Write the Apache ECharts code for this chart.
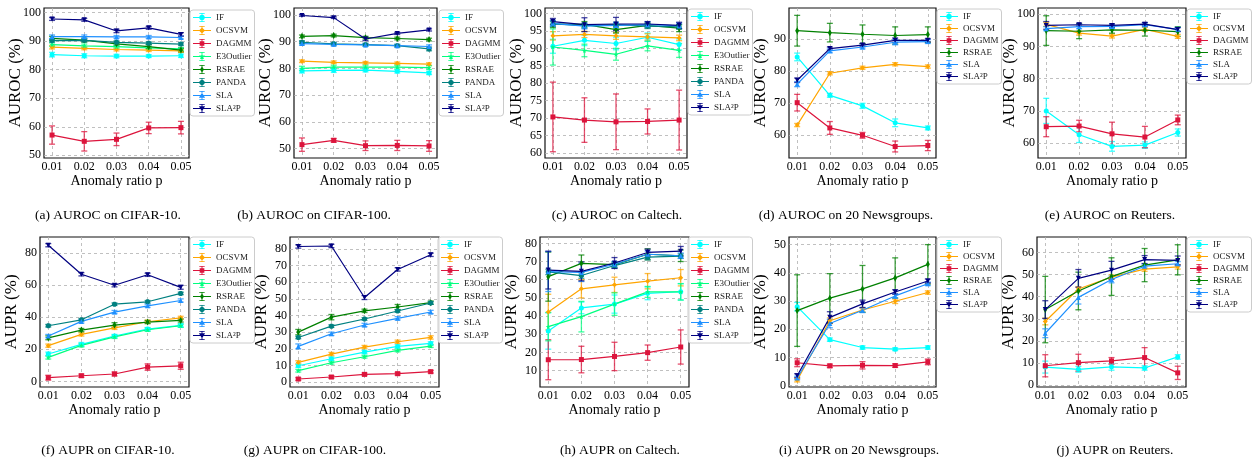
<!DOCTYPE html>
<html>
<head>
<meta charset="utf-8">
<script src="https://cdn.jsdelivr.net/npm/echarts@6/dist/echarts.min.js"></script>
</head>
<body style="margin:0;background:#fff">
<div id="container" style="width:1252px;height:462px;"></div>
<script>
// x values (anomaly ratio p)
var ratios = [0.01, 0.02, 0.03, 0.04, 0.05];
var methods8 = ['IF', 'OCSVM', 'DAGMM', 'E3Outlier', 'RSRAE', 'PANDA', 'SLA', 'SLA²P'];
var methods6 = ['IF', 'OCSVM', 'DAGMM', 'RSRAE', 'SLA', 'SLA²P'];

// (a) AUROC on CIFAR-10
var aMean = [[85.3, 84.9, 84.8, 84.8, 84.9], [87.9, 87.5, 87.1, 86.9, 86.6], [57.1, 54.9, 55.6, 59.6, 59.7], [88.8, 88.4, 88.1, 87.7, 87.3],
             [91.0, 90.4, 89.1, 88.1, 86.9], [90.2, 90.3, 89.6, 89.3, 89.0], [91.6, 91.6, 91.5, 91.5, 91.3], [97.8, 97.5, 93.6, 94.7, 92.4]];
var aErr  = [[0.8, 0.7, 0.6, 0.5, 0.6], [0.6, 0.5, 0.5, 0.5, 0.5], [3.2, 3.4, 2.2, 2.0, 2.2], [0.6, 0.6, 0.5, 0.5, 0.5],
             [0.7, 0.7, 0.8, 0.7, 0.6], [0.5, 0.5, 0.5, 0.5, 0.5], [0.6, 0.6, 0.5, 0.5, 0.5], [0.5, 0.5, 0.6, 0.5, 0.6]];
// (b) AUROC on CIFAR-100
var bMean = [[79.1, 79.3, 79.4, 78.9, 78.3], [82.7, 82.3, 82.1, 81.9, 81.6], [51.5, 53.1, 51.1, 51.2, 51.0], [80.0, 80.5, 80.5, 80.5, 80.3],
             [92.0, 92.3, 91.5, 91.2, 90.8], [89.8, 89.2, 88.9, 88.5, 87.3], [89.3, 89.0, 88.8, 88.5, 88.2], [99.8, 99.0, 91.0, 93.1, 94.4]];
var bErr  = [[0.8, 0.8, 0.7, 0.6, 0.6], [0.5, 0.5, 0.5, 0.5, 0.5], [2.5, 0.7, 1.8, 1.9, 2.0], [0.8, 0.7, 0.7, 0.7, 0.7],
             [0.5, 0.5, 0.5, 0.5, 0.5], [0.6, 0.5, 0.5, 0.5, 0.7], [0.6, 0.6, 0.5, 0.5, 0.6], [0.3, 0.3, 0.6, 0.4, 0.4]];
// (c) AUROC on Caltech
var cMean = [[90.6, 92.3, 91.4, 93.2, 91.1], [93.6, 94.0, 93.6, 93.3, 93.0], [70.3, 69.4, 68.9, 69.0, 69.4], [90.4, 89.4, 88.3, 90.7, 89.4],
             [97.0, 96.9, 95.4, 96.6, 95.8], [97.0, 96.5, 96.8, 96.4, 96.2], [97.2, 96.4, 96.6, 96.8, 96.5], [97.7, 96.8, 97.0, 97.0, 96.6]];
var cErr  = [[2.0, 1.5, 1.8, 1.2, 1.6], [1.2, 0.9, 1.0, 0.9, 0.8], [10.0, 6.4, 8.0, 3.6, 8.6], [5.2, 1.8, 1.7, 1.4, 2.0],
             [1.0, 0.8, 1.0, 0.7, 1.0], [0.7, 0.7, 0.7, 0.7, 0.7], [0.8, 0.8, 0.8, 0.8, 0.8], [0.9, 2.0, 1.9, 0.7, 0.9]];
// (d) AUROC on 20 Newsgroups
var dMean = [[84.5, 72.5, 69.2, 63.9, 62.3], [63.2, 79.4, 81.1, 82.2, 81.5], [70.2, 62.3, 60.0, 56.5, 56.8],
             [92.7, 92.1, 91.6, 91.2, 91.5], [76.0, 86.4, 87.6, 89.1, 89.3], [77.2, 87.1, 88.2, 89.7, 89.7]];
var dErr  = [[1.2, 0.6, 0.8, 1.2, 0.6], [0.5, 0.5, 0.5, 0.5, 0.5], [2.6, 2.0, 0.9, 1.7, 1.6],
             [4.8, 2.9, 2.9, 2.7, 2.4], [0.8, 0.6, 0.6, 0.8, 0.6], [0.7, 0.5, 0.5, 0.7, 0.5]];
// (e) AUROC on Reuters
var eMean = [[70.0, 62.6, 59.0, 59.4, 63.3], [96.8, 94.1, 93.2, 95.3, 93.1], [65.1, 65.3, 62.9, 61.9, 67.2],
             [94.9, 94.7, 95.1, 95.0, 94.6], [95.5, 96.1, 96.2, 96.7, 95.3], [96.5, 96.7, 96.5, 96.9, 95.2]];
var eErr  = [[3.9, 2.4, 1.5, 1.0, 1.1], [0.6, 0.6, 0.6, 0.6, 0.6], [3.1, 1.8, 3.6, 3.3, 1.5],
             [4.6, 2.3, 1.0, 1.8, 1.5], [0.6, 0.6, 0.6, 0.6, 0.6], [1.2, 0.5, 0.5, 0.5, 0.6]];
// (f) AUPR on CIFAR-10
var fMean = [[17.0, 23.0, 28.2, 32.5, 34.8], [22.2, 29.2, 33.3, 37.1, 39.5], [2.3, 3.5, 4.6, 8.9, 9.7], [14.9, 22.4, 27.7, 32.1, 34.6],
             [27.1, 31.9, 35.0, 36.9, 37.9], [34.6, 38.3, 48.0, 49.5, 54.7], [28.2, 37.3, 43.1, 47.0, 50.3], [84.7, 66.6, 59.8, 66.3, 58.5]];
var fErr  = [[1.2, 1.2, 1.0, 1.0, 1.0], [1.0, 1.0, 1.0, 1.0, 1.0], [1.5, 1.0, 1.2, 2.0, 2.2], [1.0, 1.0, 1.0, 1.0, 1.0],
             [1.2, 1.0, 1.5, 1.0, 1.0], [0.8, 0.8, 0.8, 0.8, 0.8], [1.0, 1.0, 1.0, 1.0, 1.0], [1.0, 1.0, 1.0, 1.0, 1.2]];
// (g) AUPR on CIFAR-100
var gMean = [[9.8, 14.0, 18.0, 21.4, 23.2], [11.8, 16.8, 21.0, 24.2, 26.8], [1.8, 3.0, 4.6, 5.0, 6.2], [6.8, 11.6, 15.2, 19.0, 21.6],
             [30.0, 39.0, 42.8, 45.1, 47.7], [26.8, 33.6, 37.9, 42.7, 47.5], [21.4, 29.0, 34.3, 38.3, 42.1], [81.5, 81.8, 50.8, 67.7, 76.5]];
var gErr  = [[1.0, 1.0, 1.0, 1.0, 1.0], [1.0, 1.0, 1.0, 1.0, 1.0], [0.8, 0.8, 0.8, 0.8, 0.8], [0.8, 0.8, 0.8, 0.8, 0.8],
             [1.6, 1.6, 1.0, 1.5, 1.0], [0.8, 0.8, 0.8, 0.8, 0.8], [1.5, 1.0, 1.0, 1.0, 1.0], [1.0, 1.0, 1.2, 1.0, 1.0]];
// (h) AUPR on Caltech
var hMean = [[31.8, 44.5, 46.6, 52.5, 53.4], [42.2, 55.0, 57.2, 59.2, 61.1], [16.0, 16.1, 17.8, 19.9, 23.0], [34.2, 39.7, 46.6, 53.3, 53.3],
             [61.7, 69.0, 68.3, 74.0, 73.2], [64.3, 62.3, 67.8, 72.4, 73.0], [64.5, 64.0, 68.5, 74.0, 73.2], [65.3, 64.6, 69.2, 75.0, 75.7]];
var hErr  = [[10.0, 3.2, 5.0, 3.5, 4.5], [9.8, 5.0, 4.2, 4.2, 4.5], [11.0, 7.3, 7.8, 4.2, 9.4], [7.8, 8.4, 6.2, 3.0, 4.5],
             [13.5, 4.6, 1.5, 3.0, 3.2], [1.5, 1.5, 1.5, 1.5, 1.2], [11.0, 5.0, 1.5, 1.8, 1.5], [10.4, 5.2, 3.0, 1.8, 2.6]];
// (i) AUPR on 20 Newsgroups
var iMean = [[28.0, 16.3, 13.5, 12.9, 13.5], [1.9, 23.0, 26.8, 29.9, 33.0], [8.1, 7.0, 7.2, 7.1, 8.4],
             [26.6, 31.0, 34.3, 38.2, 43.0], [2.7, 22.0, 26.7, 31.8, 36.1], [3.5, 24.2, 29.0, 33.2, 37.1]];
var iErr  = [[1.5, 0.6, 0.6, 0.5, 0.6], [0.6, 1.0, 0.8, 0.8, 0.6], [1.4, 0.6, 1.3, 0.6, 1.0],
             [12.7, 8.7, 8.3, 7.1, 7.0], [0.6, 1.5, 0.8, 0.8, 0.6], [0.7, 2.0, 1.3, 0.8, 0.7]];
// (j) AUPR on Reuters
var jMean = [[8.2, 7.2, 8.3, 7.8, 12.8], [28.8, 43.5, 48.9, 52.5, 53.5], [8.8, 10.2, 11.0, 12.5, 5.6],
             [34.2, 42.6, 49.1, 54.3, 56.7], [23.5, 39.7, 47.8, 53.8, 54.9], [34.2, 48.3, 52.0, 56.8, 56.4]];
var jErr  = [[2.7, 1.3, 1.5, 1.0, 1.0], [1.5, 1.0, 1.0, 1.0, 1.0], [5.0, 3.8, 1.5, 4.5, 3.0],
             [15.0, 8.5, 8.5, 7.5, 6.8], [2.0, 3.0, 1.5, 1.0, 1.0], [4.0, 4.0, 4.0, 1.8, 2.0]];

var captions = ['(a) AUROC on CIFAR-10.', '(b) AUROC on CIFAR-100.', '(c) AUROC on Caltech.', '(d) AUROC on 20 Newsgroups.', '(e) AUROC on Reuters.',
                '(f) AUPR on CIFAR-10.', '(g) AUPR on CIFAR-100.', '(h) AUPR on Caltech.', '(i) AUPR on 20 Newsgroups.', '(j) AUPR on Reuters.'];

var panels = [
  {mean: aMean, err: aErr, names: methods8, yMin: 49.05, yMax: 101.65, split: 5, yName: 'AUROC (%)'},
  {mean: bMean, err: bErr, names: methods8, yMin: 46.5, yMax: 102.6, split: 5, yName: 'AUROC (%)'},
  {mean: cMean, err: cErr, names: methods8, yMin: 58.5, yMax: 101.6, split: 8, yName: 'AUROC (%)'},
  {mean: dMean, err: dErr, names: methods6, yMin: 52.9, yMax: 99.8, split: 5, yName: 'AUROC (%)'},
  {mean: eMean, err: eErr, names: methods6, yMin: 55.4, yMax: 101.9, split: 5, yName: 'AUROC (%)'},
  {mean: fMean, err: fErr, names: methods8, yMin: -3.5, yMax: 89.8, split: 5, yName: 'AUPR (%)'},
  {mean: gMean, err: gErr, names: methods8, yMin: -3.0, yMax: 87.2, split: 9, yName: 'AUPR (%)'},
  {mean: hMean, err: hErr, names: methods8, yMin: 1.0, yMax: 83.5, split: 8, yName: 'AUPR (%)'},
  {mean: iMean, err: iErr, names: methods6, yMin: -0.5, yMax: 52.7, split: 5, yName: 'AUPR (%)'},
  {mean: jMean, err: jErr, names: methods6, yMin: -0.8, yMax: 67.0, split: 7, yName: 'AUPR (%)'}
];

// layout (px)
var gridLeft = [44, 294, 545, 789, 1038, 40, 290, 540, 789, 1037];
var gridWidth = [145, 143, 142, 147, 148, 149, 149, 149, 147, 149];
var rowTop = [8, 237];
var legendLeft = [190, 439, 688, 937, 1187, 190, 438, 688, 937, 1187];
var legendTop = [10, 10, 9, 9, 9, 237, 237, 237, 237, 237];
var captionX = [108, 314, 617, 846, 1110, 108, 315, 620, 859, 1115];
var captionY = [215, 450];

var font = "'Liberation Serif', 'Times New Roman', serif";

var styles = {
  'IF': {color: '#00ffff', symbol: 'circle'},
  'OCSVM': {color: '#ffa500', symbol: 'diamond'},
  'DAGMM': {color: '#dc143c', symbol: 'rect'},
  'E3Outlier': {color: '#00ff7f', symbol: 'star'},
  'RSRAE': {color: '#008000', symbol: 'thin'},
  'PANDA': {color: '#008080', symbol: 'oct'},
  'SLA': {color: '#1e90ff', symbol: 'triangle'},
  'SLA²P': {color: '#000080', symbol: 'tridown'}
};

// marker outlines centred at (10,5) in a 20x10 box (all clockwise)
function starPath() {
  var s = '';
  for (var k = 0; k < 10; k++) {
    var r = k % 2 ? 1.5 : 3.7;
    var a = (-90 + k * 36) * Math.PI / 180;
    s += (k ? 'L' : 'M') + (10 + r * Math.cos(a)).toFixed(2) + ',' + (5 + r * Math.sin(a)).toFixed(2) + ' ';
  }
  return s + 'Z';
}
var markerPaths = {
  circle: 'M7,5 A3,3 0 1 1 13,5 A3,3 0 1 1 7,5 Z',
  diamond: 'M10,1.6 L13.4,5 L10,8.4 L6.6,5 Z',
  rect: 'M7.4,2.4 H12.6 V7.6 H7.4 Z',
  star: starPath(),
  thin: 'M10,1.4 L12.2,5 L10,8.6 L7.8,5 Z',
  oct: 'M8.8,2.1 L11.2,2.1 L12.9,3.8 L12.9,6.2 L11.2,7.9 L8.8,7.9 L7.1,6.2 L7.1,3.8 Z',
  triangle: 'M10,1.6 L13.4,7.6 L6.6,7.6 Z',
  tridown: 'M6.6,2.4 L13.4,2.4 L10,8.4 Z'
};
var seriesSymbols = {
  circle: 'circle', diamond: 'diamond', rect: 'rect', triangle: 'triangle',
  star: 'path://' + markerPaths.star,
  thin: 'path://M10,1.4 L12.2,5 L10,8.6 L7.8,5 Z',
  oct: 'path://' + markerPaths.oct,
  tridown: 'path://M6.6,2.4 L13.4,2.4 L10,8.4 Z'
};
var legendBase = 'M0,4.4 H20 V5.6 H0 Z M9.5,0 H10.5 V10 H9.5 Z M7,0 H13 V0.9 H7 Z M7,9.1 H13 V10 H7 Z ';

function renderErr(params, api) {
  var x = api.value(0);
  var p1 = api.coord([x, api.value(2)]);
  var p2 = api.coord([x, api.value(1)]);
  var st = {stroke: api.visual('color'), lineWidth: 1.3, opacity: 0.75};
  return {type: 'group', children: [
    {type: 'line', shape: {x1: p1[0], y1: p1[1], x2: p2[0], y2: p2[1]}, style: st},
    {type: 'line', shape: {x1: p1[0] - 3, y1: p1[1], x2: p1[0] + 3, y2: p1[1]}, style: st},
    {type: 'line', shape: {x1: p2[0] - 3, y1: p2[1], x2: p2[0] + 3, y2: p2[1]}, style: st}
  ]};
}

var grids = [], xAxes = [], yAxes = [], legends = [], series = [], texts = [];
panels.forEach(function (p, i) {
  var row = i < 5 ? 0 : 1;
  grids.push({left: gridLeft[i], top: rowTop[row], width: gridWidth[i], height: 150,
    show: true, borderColor: '#111', borderWidth: 1.2, backgroundColor: 'transparent'});
  xAxes.push({
    type: 'value', gridIndex: i, min: 0.0075, max: 0.0525, splitNumber: 5,
    name: 'Anomaly ratio p', nameLocation: 'middle', nameGap: 16, nameMoveOverlap: false,
    nameTextStyle: {fontFamily: font, fontSize: 14, color: '#000'},
    axisLine: {show: false}, axisTick: {show: false},
    axisLabel: {showMinLabel: false, showMaxLabel: false, margin: 3, fontFamily: font, fontSize: 12, color: '#000',
      formatter: function (v) { return v.toFixed(2); }},
    splitLine: {show: true, showMinLine: false, showMaxLine: false, lineStyle: {color: '#b0b0b0', type: [3, 3], width: 0.8}}
  });
  yAxes.push({
    type: 'value', gridIndex: i, min: p.yMin, max: p.yMax, splitNumber: p.split,
    name: p.yName, nameLocation: 'middle', nameGap: 20, nameMoveOverlap: false,
    nameTextStyle: {fontFamily: font, fontSize: 17, color: '#000'},
    axisLine: {show: false}, axisTick: {show: false},
    axisLabel: {showMinLabel: false, showMaxLabel: false, margin: 3, fontFamily: font, fontSize: 12, color: '#000'},
    splitLine: {show: true, showMinLine: false, showMaxLine: false, lineStyle: {color: '#b0b0b0', type: [3, 3], width: 0.8}}
  });
  legends.push({
    orient: 'vertical', left: legendLeft[i], top: legendTop[i],
    itemWidth: 18, itemHeight: 9, itemGap: p.names.length === 8 ? 4 : 3,
    padding: [3, 3, 3, 3], backgroundColor: 'rgba(255,255,255,0.85)', borderColor: '#cccccc', borderWidth: 1, borderRadius: 3,
    textStyle: {fontFamily: font, fontSize: 9, color: '#222'},
    selectedMode: false, z: 10,
    data: p.names.map(function (n) {
      return {name: n, icon: 'path://' + legendBase + markerPaths[styles[n].symbol]};
    })
  });
  p.names.forEach(function (n, m) {
    var st = styles[n];
    series.push({
      name: n, type: 'custom', xAxisIndex: i, yAxisIndex: i, renderItem: renderErr,
      itemStyle: {color: st.color}, encode: {x: 0, y: [1, 2]}, silent: true, animation: false,
      data: ratios.map(function (r, k) { return [r, p.mean[m][k] - p.err[m][k], p.mean[m][k] + p.err[m][k]]; })
    });
    series.push({
      name: n, type: 'line', xAxisIndex: i, yAxisIndex: i,
      symbol: seriesSymbols[st.symbol], symbolSize: st.symbol === 'thin' ? [4, 7] : 5, showSymbol: true,
      itemStyle: {color: st.color}, lineStyle: {color: st.color, width: 1.2},
      emphasis: {disabled: true}, silent: true, animation: false,
      data: ratios.map(function (r, k) { return [r, p.mean[m][k]]; })
    });
  });
  texts.push({
    type: 'text', x: captionX[i], y: captionY[row],
    style: {text: captions[i], font: '13.5px ' + font, fill: '#000',
      align: 'center', verticalAlign: 'middle', textAlign: 'center', textVerticalAlign: 'middle'}
  });
});

var myChart = echarts.init(document.getElementById('container'));
myChart.setOption({
  backgroundColor: '#fff',
  animation: false,
  grid: grids, xAxis: xAxes, yAxis: yAxes, legend: legends, series: series,
  graphic: texts
});
</script>
</body>
</html>
